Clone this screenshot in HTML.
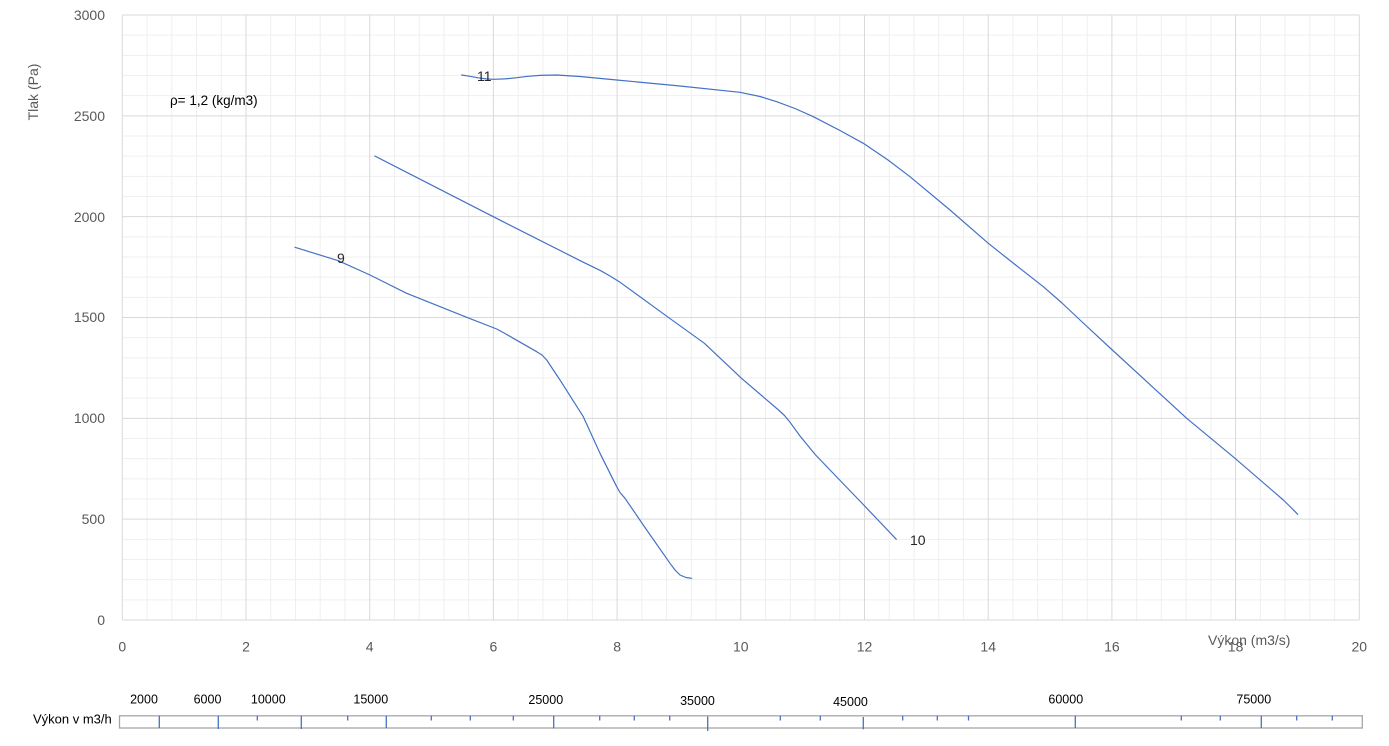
<!DOCTYPE html>
<html><head><meta charset="utf-8"><style>
html,body{margin:0;padding:0;background:#fff;}
svg{display:block;}
text{font-family:"Liberation Sans",sans-serif;}
</style></head><body>
<svg width="1389" height="746" viewBox="0 0 1389 746" xmlns="http://www.w3.org/2000/svg">
<rect width="1389" height="746" fill="#fff"/>
<path fill="none" stroke="#efefef" stroke-width="1" d="M147.04,15V620M171.78,15V620M196.52,15V620M221.26,15V620M270.74,15V620M295.48,15V620M320.22,15V620M344.96,15V620M394.44,15V620M419.18,15V620M443.92,15V620M468.66,15V620M518.14,15V620M542.88,15V620M567.62,15V620M592.36,15V620M641.84,15V620M666.58,15V620M691.32,15V620M716.06,15V620M765.54,15V620M790.28,15V620M815.02,15V620M839.76,15V620M889.24,15V620M913.98,15V620M938.72,15V620M963.46,15V620M1012.94,15V620M1037.68,15V620M1062.42,15V620M1087.16,15V620M1136.64,15V620M1161.38,15V620M1186.12,15V620M1210.86,15V620M1260.34,15V620M1285.08,15V620M1309.82,15V620M1334.56,15V620M122.3,599.83H1359.3M122.3,579.67H1359.3M122.3,559.5H1359.3M122.3,539.33H1359.3M122.3,499H1359.3M122.3,478.83H1359.3M122.3,458.67H1359.3M122.3,438.5H1359.3M122.3,398.17H1359.3M122.3,378H1359.3M122.3,357.83H1359.3M122.3,337.67H1359.3M122.3,297.33H1359.3M122.3,277.17H1359.3M122.3,257H1359.3M122.3,236.83H1359.3M122.3,196.5H1359.3M122.3,176.33H1359.3M122.3,156.17H1359.3M122.3,136H1359.3M122.3,95.67H1359.3M122.3,75.5H1359.3M122.3,55.33H1359.3M122.3,35.17H1359.3"/>
<path fill="none" stroke="#d9d9d9" stroke-width="1" d="M122.3,15V620M246,15V620M369.7,15V620M493.4,15V620M617.1,15V620M740.8,15V620M864.5,15V620M988.2,15V620M1111.9,15V620M1235.6,15V620M1359.3,15V620M122.3,620H1359.3M122.3,519.17H1359.3M122.3,418.33H1359.3M122.3,317.5H1359.3M122.3,216.67H1359.3M122.3,115.83H1359.3M122.3,15H1359.3"/>
<g fill="none" stroke="#4472c4" stroke-width="1.2" stroke-linejoin="round" stroke-linecap="round">
<polyline points="295,247.3 338.3,260.7 370,275 406.7,293.3 466.7,317.3 496.7,329 505,333.5 513.3,338.3 536.7,351.7 542,355 546.7,360 553,369.5 560,380 583.3,416.7 600,453.3 616.7,486.7 620,492.5 625,498.3 646.7,530 670,563.3 675,570 680,575 686,577.5 691.7,578.3"/>
<polyline points="374.8,156 493.3,216.7 582.2,261.7 600.7,270.7 610,276 619.3,281.7 667.4,316.7 704.4,343.3 741.5,378.3 778.5,410 784.5,415.5 789.6,421.7 800,436 815.6,455 863.7,505 896.3,539.3"/>
<polyline points="461.7,75 470,76.3 478,77.8 486,78.9 493.3,79.3 505,78.9 516.7,77.7 528,76.3 540,75.4 556.7,75 580,76.5 616.7,80 680,86 740,92.3 760,96.5 776.7,101.7 795,108.5 813.3,116.7 840,130.5 863.3,143.3 888,160 910,176.7 950,210 988.3,243.3 1015,264.5 1043.3,286.7 1062,303 1080,320 1112.3,350 1186.7,418.3 1235,458.3 1283.3,500 1290,506.5 1297.7,514.3"/>
</g>
<g fill="#595959" font-size="14" text-anchor="end">
<text x="105" y="20">3000</text>
<text x="105" y="121">2500</text>
<text x="105" y="222">2000</text>
<text x="105" y="322">1500</text>
<text x="105" y="423">1000</text>
<text x="105" y="524">500</text>
<text x="105" y="625">0</text>
</g>
<g fill="#595959" font-size="14" text-anchor="middle">
<text x="122.3" y="651.5">0</text>
<text x="246" y="651.5">2</text>
<text x="369.7" y="651.5">4</text>
<text x="493.4" y="651.5">6</text>
<text x="617.1" y="651.5">8</text>
<text x="740.8" y="651.5">10</text>
<text x="864.5" y="651.5">12</text>
<text x="988.2" y="651.5">14</text>
<text x="1111.9" y="651.5">16</text>
<text x="1235.6" y="651.5">18</text>
<text x="1359.3" y="651.5">20</text>
</g>
<text x="1208" y="645" font-size="14" fill="#595959">Výkon (m3/s)</text>
<text transform="translate(38,92) rotate(-90)" font-size="14" fill="#595959" text-anchor="middle">Tlak (Pa)</text>
<text x="170" y="105" font-size="13.5" fill="#000">ρ= 1,2 (kg/m3)</text>
<g fill="#262626" font-size="14">
<text x="477" y="81">11</text>
<text x="337" y="263">9</text>
<text x="910" y="545">10</text>
</g>
<g font-size="12.5" fill="#000" text-anchor="middle">
<text x="144" y="703.5">2000</text>
<text x="207.5" y="703.5">6000</text>
<text x="268.3" y="703.5">10000</text>
<text x="370.8" y="703.5">15000</text>
<text x="545.8" y="703.8">25000</text>
<text x="697.5" y="705.2">35000</text>
<text x="850.5" y="706.2">45000</text>
<text x="1065.8" y="703.5">60000</text>
<text x="1253.8" y="703.5">75000</text>
</g>
<text x="33" y="723.5" font-size="13" fill="#000">Výkon v m3/h</text>
<rect x="119.5" y="715.8" width="1242.8" height="12.2" fill="none" stroke="#a6a6a6" stroke-width="1.3"/>
<g stroke="#4472c4" stroke-width="1.3">
<line x1="159.3" y1="715.8" x2="159.3" y2="728"/>
<line x1="218.3" y1="715.8" x2="218.3" y2="729"/>
<line x1="257.3" y1="715.8" x2="257.3" y2="720.5"/>
<line x1="301.3" y1="715.8" x2="301.3" y2="729"/>
<line x1="347.7" y1="715.8" x2="347.7" y2="720.5"/>
<line x1="386.3" y1="715.8" x2="386.3" y2="728"/>
<line x1="431.3" y1="715.8" x2="431.3" y2="720.5"/>
<line x1="470.3" y1="715.8" x2="470.3" y2="720.5"/>
<line x1="513.3" y1="715.8" x2="513.3" y2="720.5"/>
<line x1="553.7" y1="715.8" x2="553.7" y2="728.3"/>
<line x1="599.7" y1="715.8" x2="599.7" y2="720.5"/>
<line x1="634.3" y1="715.8" x2="634.3" y2="720.5"/>
<line x1="669.7" y1="715.8" x2="669.7" y2="720.5"/>
<line x1="707.7" y1="716.5" x2="707.7" y2="731"/>
<line x1="780.3" y1="715.8" x2="780.3" y2="720.5"/>
<line x1="820.3" y1="715.8" x2="820.3" y2="720.5"/>
<line x1="863.3" y1="717" x2="863.3" y2="729.3"/>
<line x1="902.7" y1="715.8" x2="902.7" y2="720.5"/>
<line x1="937.3" y1="715.8" x2="937.3" y2="720.5"/>
<line x1="968.5" y1="715.8" x2="968.5" y2="720.5"/>
<line x1="1075.3" y1="715.8" x2="1075.3" y2="728"/>
<line x1="1181.3" y1="715.8" x2="1181.3" y2="720.5"/>
<line x1="1220.3" y1="715.8" x2="1220.3" y2="720.5"/>
<line x1="1261.3" y1="715.8" x2="1261.3" y2="728"/>
<line x1="1296.7" y1="715.8" x2="1296.7" y2="720.5"/>
<line x1="1332.3" y1="715.8" x2="1332.3" y2="720.5"/>
</g>
</svg>
</body></html>
